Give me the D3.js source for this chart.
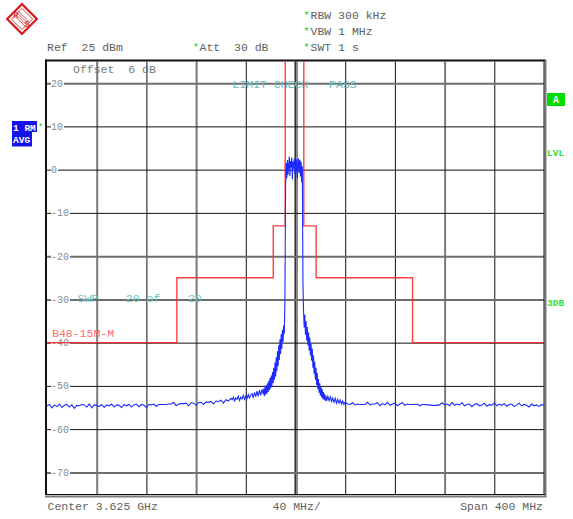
<!DOCTYPE html>
<html><head><meta charset="utf-8">
<script src="https://cdn.jsdelivr.net/npm/d3@7"></script>
<style>
body{margin:0;background:#fff}
svg{display:block}
text{font-family:"Liberation Mono","DejaVu Sans Mono",monospace;white-space:pre}
</style>
</head><body>
<svg id="c" width="573" height="519"></svg>
<script>
// ---- data ----
const yTicks = [20, 10, 0, -10, -20, -30, -40, -50, -60, -70];
const xDivs = [-160, -120, -80, -40, 0, 40, 80, 120, 160];
const grayH = [20, -20, -30, -70];
const grayV = [-160, -80, 120];

const limitFreq  = [-200, -95.5, -95.5, -17.9, -17.9, -8.3, -8.3, 6.7, 6.7, 16.6, 16.6, 94.2, 94.2, 200];
const limitLevel = [-40, -40, -25, -25, -13, -13, 40, 40, -13, -13, -25, -25, -40, -40];

// trace (MHz offset from center, dBm), sampled on per-segment grids
const floorLeftStart = -200, floorLeftStep = 2;
const floorLeft = [
-54.6,-54.3,-55.1,-54.4,-54.8,-54.2,-55.0,-54.5,-54.3,-54.9,
-54.4,-55.2,-54.5,-54.6,-54.3,-54.4,-54.9,-54.2,-55.1,-54.4,
-54.5,-54.8,-54.3,-55.0,-54.4,-54.6,-54.2,-54.9,-54.4,-54.5,
-55.0,-54.3,-54.6,-54.3,-54.9,-54.4,-54.2,-54.8,-54.3,-54.5,
-55.0,-54.3,-54.4,-54.2,-54.7,-54.3,-54.3,-54.3,-54.3,-54.2,
-54.2,-53.8,-54.6,-54.2,-54.1,-54.1,-54.0,-54.6,-53.9,-54.0,
-54.5,-53.9,-53.8,-54.3,-53.7,-53.8,-53.6,-54.2,-53.5,-53.6,
-53.3,-54.0,-53.2,-53.5,-52.9];
const skirtLeftStart = -51, skirtLeftStep = 1;
const skirtLeft = [
-53.2,-52.6,-53.5,-52.8,-53.1,-52.4,-53.4,-52.6,-53.0,-52.2,
-53.1,-52.3,-52.9,-52.0,-52.8,-52.1,-51.8,-52.8,-51.5,-52.5,
-51.2,-52.4,-51.0,-52.2,-50.8,-51.9];
const flankLeftStart = -25.5, flankLeftStep = 0.5;
const flankLeft = [
-50.6,-52.4,-50.2,-52.0,-49.8,-51.8,-49.4,-51.4,-48.8,-51.0,
-48.2,-50.6,-47.6,-50.0,-46.8,-49.4,-45.8,-48.6,-44.6,-47.8,
-43.4,-46.6,-42.0,-45.4,-40.6,-44.0,-39.2,-42.6,-38.0,-41.4,
-37.0,-39.8,-36.0,-38.0,-30.0];
const carrierStart = -8, carrierStep = 0.5;
const carrier = [
-4.5,1.5,-2.0,2.2,-1.2,1.0,3.0,-1.5,2.0,0.5,
2.8,-2.2,1.8,0.2,2.5,-1.0,1.6,-0.5,2.4,-2.0,
1.2,2.6,-0.8,2.2,-1.6,1.8,-3.0,0.8];
const flankRightStart = 6, flankRightStep = 0.5;
const flankRight = [
-26.0,-33.0,-36.5,-33.5,-38.2,-35.0,-39.5,-36.4,-40.6,-37.6,
-41.8,-38.8,-43.0,-40.2,-44.2,-41.4,-45.8,-43.0,-47.2,-44.4,
-48.6,-45.8,-49.8,-47.0,-50.8,-48.4,-51.6,-49.4,-52.2,-50.2,
-52.6,-50.8,-53.0,-51.4,-53.2,-51.9,-53.4,-52.3,-53.5];
const skirtRightStart = 26, skirtRightStep = 1;
const skirtRight = [
-52.4,-53.4,-52.5,-53.6,-52.8,-53.8,-52.9,-54.0,-53.1,-54.0,
-53.3,-54.2,-53.5,-54.3,-53.7];
const floorRightStart = 42, floorRightStep = 2;
const floorRight = [
-54.2,-54.3,-53.9,-54.4,-54.2,-54.3,-54.3,-54.3,-53.8,-54.4,
-54.2,-54.2,-53.9,-54.6,-54.1,-54.4,-53.8,-54.5,-54.2,-54.0,
-54.6,-54.2,-53.9,-54.5,-54.2,-54.3,-54.3,-54.3,-54.2,-54.6,
-54.3,-54.3,-54.4,-54.4,-54.5,-54.5,-54.5,-54.4,-53.9,-54.4,
-54.2,-54.6,-53.8,-54.5,-54.2,-54.4,-53.9,-54.6,-54.3,-54.2,
-54.8,-54.3,-54.1,-54.6,-54.4,-54.0,-54.7,-54.3,-54.5,-53.9,
-54.6,-54.2,-54.5,-54.1,-54.7,-54.3,-54.2,-54.8,-54.4,-54.0,
-54.6,-54.3,-54.5,-54.9,-54.2,-54.6,-54.4,-54.8,-54.3,-54.5];

const headerLeft = ["Ref  25 dBm", "Att  30 dB"];
const headerRight = ["RBW 300 kHz", "VBW 1 MHz", "SWT 1 s"];
const footer = ["Center 3.625 GHz", "40 MHz/", "Span 400 MHz"];

// ---- drawing ----
const svg = d3.select("#c");
const X0 = 47, X1 = 544, Y0 = 61.5, Y1 = 494;
const x = d3.scaleLinear().domain([-200, 200]).range([X0, X1]);
const y = d3.scaleLinear().domain([-75, 25]).range([Y1, Y0]);

svg.append("defs").append("clipPath").attr("id", "pc")
  .append("rect").attr("x", X0).attr("y", Y0).attr("width", X1 - X0).attr("height", Y1 - Y0);

// vertical grid via axis
const gx = svg.append("g").attr("transform", `translate(0,${Y1})`)
  .call(d3.axisBottom(x).tickValues(xDivs).tickSize(-(Y1 - Y0)).tickFormat(""));
gx.select(".domain").remove();
gx.selectAll(".tick line")
  .attr("stroke", d => d === 0 ? "#8a8a8a" : (grayV.includes(d) ? "#7a7a7a" : "#111"))
  .attr("stroke-width", d => d === 0 ? 4 : (grayV.includes(d) ? 2 : 1));
svg.append("line").attr("x1", x(0)).attr("x2", x(0)).attr("y1", Y0).attr("y2", Y1)
  .attr("stroke", "#333").attr("stroke-width", 1);

// horizontal grid via axis
const gy = svg.append("g").attr("transform", `translate(${X0},0)`)
  .call(d3.axisRight(y).tickValues(yTicks).tickSize(X1 - X0).tickFormat(""));
gy.select(".domain").remove();
gy.selectAll(".tick line")
  .attr("stroke", d => grayH.includes(d) ? "#6e6e6e" : "#111")
  .attr("stroke-width", d => grayH.includes(d) ? 2 : 1);

// y labels
const lab = svg.append("g");
yTicks.forEach(v => {
  const t = lab.append("text").attr("x", 51).attr("y", y(v))
    .attr("dy", "0.35em").attr("font-size", 10).attr("fill", "#8a8a8a")
    .text(v < 0 ? "-" + Math.abs(v) : String(v));
  const bb = t.node().getBBox();
  lab.insert("rect", () => t.node())
    .attr("x", bb.x).attr("y", bb.y + 1).attr("width", bb.width + 1).attr("height", bb.height - 2)
    .attr("fill", "#fff");
});

// frame
svg.append("line").attr("x1", X0 - 1).attr("x2", X0 - 1).attr("y1", 59.5).attr("y2", Y1 + 1).attr("stroke", "#111").attr("stroke-width", 2);
svg.append("line").attr("x1", X0 - 2).attr("x2", X1 + 2).attr("y1", 60.5).attr("y2", 60.5).attr("stroke", "#111").attr("stroke-width", 2);
svg.append("line").attr("x1", X1 + 1.5).attr("x2", X1 + 1.5).attr("y1", 60).attr("y2", Y1 + 3).attr("stroke", "#7a7a7a").attr("stroke-width", 2);
svg.append("line").attr("x1", X1).attr("x2", X1).attr("y1", 60).attr("y2", Y1 + 1).attr("stroke", "#111").attr("stroke-width", 1);
svg.append("line").attr("x1", X0 - 2).attr("x2", X1 + 2.5).attr("y1", Y1 + 2.5).attr("y2", Y1 + 2.5).attr("stroke", "#7a7a7a").attr("stroke-width", 2);
svg.append("line").attr("x1", X0 - 2).attr("x2", X1 + 1).attr("y1", Y1 + 0.5).attr("y2", Y1 + 0.5).attr("stroke", "#111").attr("stroke-width", 1.2);

// inner texts
const T = (xx, yy, txt, col, size) => svg.append("text").attr("x", xx).attr("y", yy)
  .attr("font-size", size || 11.5).attr("fill", col).attr("xml:space", "preserve").text(txt);
T(73, 73, "Offset  6 dB", "#777");
T(232.5, 87.5, "LIMIT CHECK   PASS", "#5fbcbc");
T(77.5, 302, "SWP    20 of    20", "#6cc4c4");

// limit line
const limitPts = limitFreq.map((f, i) => [f, limitLevel[i]]);
svg.append("path").attr("clip-path", "url(#pc)")
  .attr("d", d3.line().x(d => x(d[0])).y(d => y(d[1]))(limitPts))
  .attr("fill", "none").attr("stroke", "#ff2a2a").attr("stroke-width", 1.4).attr("stroke-opacity", 0.9);

T(52, 336.5, "B48-15M-M", "#ff6a6a");

// trace
const segs = [
  [floorLeftStart, floorLeftStep, floorLeft],
  [skirtLeftStart, skirtLeftStep, skirtLeft],
  [flankLeftStart, flankLeftStep, flankLeft],
  [carrierStart, carrierStep, carrier],
  [flankRightStart, flankRightStep, flankRight],
  [skirtRightStart, skirtRightStep, skirtRight],
  [floorRightStart, floorRightStep, floorRight]];
const tracePts = segs.flatMap(([s, st, vals]) => vals.map((v, i) => [s + i * st, v]));
svg.append("path").attr("clip-path", "url(#pc)")
  .attr("d", d3.line().x(d => x(d[0])).y(d => y(d[1]))(tracePts))
  .attr("fill", "none").attr("stroke", "#1d2bff").attr("stroke-width", 1.1);

// header
T(47, 51, headerLeft[0], "#606060");
T(193, 51, "*", "#22cc22", 10);
T(199.5, 51, headerLeft[1], "#606060");
headerRight.forEach((h, i) => {
  T(303.5, 19 + i * 16, "*", "#22cc22", 10);
  T(310.5, 19 + i * 16, h, "#606060");
});

// footer
T(47.5, 510, footer[0], "#606060");
T(272.5, 510, footer[1], "#606060");
T(543, 510, footer[2], "#606060").attr("text-anchor", "end");

// left trace labels
svg.append("rect").attr("x", 12).attr("y", 121).attr("width", 25).attr("height", 11).attr("fill", "#1414e6");
svg.append("rect").attr("x", 12).attr("y", 132).attr("width", 20).attr("height", 14.5).attr("fill", "#1414e6");
T(13, 130.5, "1 RM", "#fff", 9.5).attr("font-weight", "bold");
T(13, 142.5, "AVG", "#fff", 9.5).attr("font-weight", "bold");
T(38, 130, "*", "#22cc22", 9);

// right labels
svg.append("rect").attr("x", 547).attr("y", 93).attr("width", 18).attr("height", 13).attr("fill", "#00dd00");
T(556, 103, "A", "#fff", 10).attr("text-anchor", "middle").attr("font-weight", "bold");
T(547, 156, "LVL", "#33dd33", 9.5).attr("font-weight", "bold");
T(547, 306, "3DB", "#33dd33", 9.5).attr("font-weight", "bold");

// logo (R&S diamond)
const lg = svg.append("g").attr("transform", "translate(22,19)");
const lr = lg.append("g").attr("transform", "rotate(45)");
lr.append("rect").attr("x", -10.5).attr("y", -10.5).attr("width", 21).attr("height", 21)
  .attr("fill", "#fff").attr("stroke", "#d42020").attr("stroke-width", 2.2);
lr.append("rect").attr("x", -7.5).attr("y", -7.5).attr("width", 15).attr("height", 15)
  .attr("fill", "none").attr("stroke", "#d42020").attr("stroke-width", 0.8);
[-3, -1, 1, 3].forEach(o => lr.append("line").attr("x1", -7.5).attr("x2", 7.5).attr("y1", o).attr("y2", o)
  .attr("stroke", "#d42020").attr("stroke-width", 0.7));
lg.append("text").attr("x", -6).attr("y", -1).attr("text-anchor", "middle").attr("font-size", 9)
  .attr("font-family", "Liberation Sans").attr("fill", "#d42020").text("R");
lg.append("text").attr("x", 5).attr("y", 8).attr("text-anchor", "middle").attr("font-size", 9)
  .attr("font-family", "Liberation Sans").attr("fill", "#d42020").text("S");
</script>
</body></html>
